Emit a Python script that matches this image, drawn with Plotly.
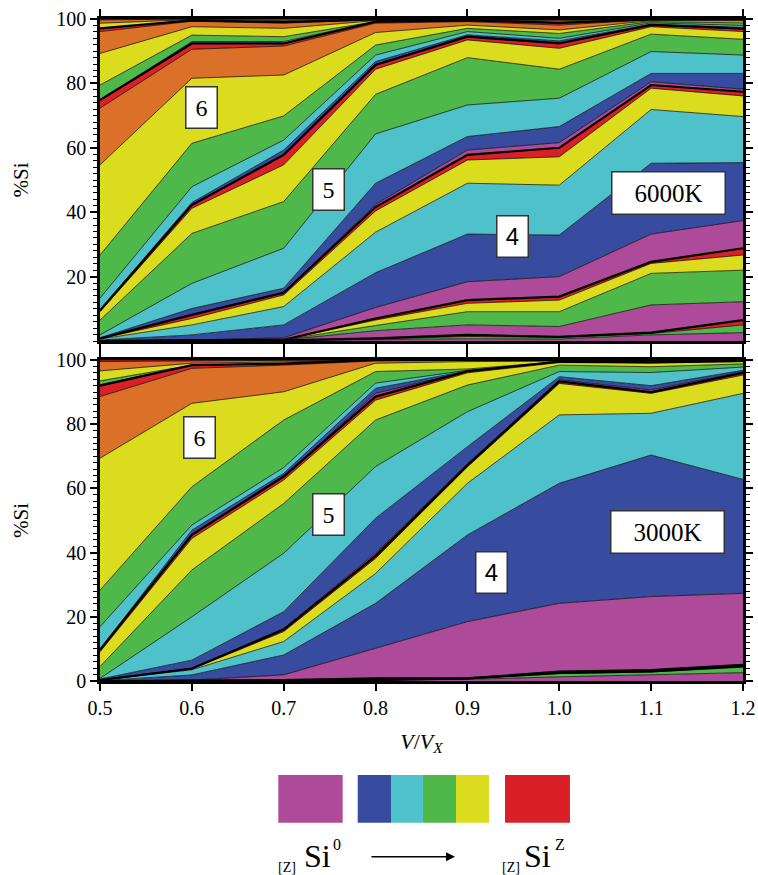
import plotly.graph_objects as go
import numpy as np

x_vals = [0.5, 0.6, 0.7, 0.8, 0.9, 1.0, 1.1, 1.2]

MAG = "#AD4A9A"; BLU = "#374B9F"; CYA = "#4FC1CB"; GRN = "#4EB84B"
YEL = "#DCDC1F"; ORA = "#DB7128"; RED = "#D92027"
COLORS = {"M": MAG, "B": BLU, "C": CYA, "G": GRN, "Y": YEL, "O": ORA, "R": RED}

# ---------------- 6000 K : % Si per coordination group / species ----------------
hot_z2 = {"M": [0, 0.1, 0.1, 0.4, 0.7, 0.6, 1.9, 2.6],
          "G": [0, 0, 0.05, 0.2, 0.7, 0.5, 0.4, 2.4],
          "R": [0, 0, 0.05, 0.2, 0.5, 0.2, 0.3, 1.5]}
hot_z3 = {"M": [0, 0.1, 0.15, 2.4, 3.1, 3.2, 8.6, 5.7],
          "G": [0, 0, 0.05, 1.6, 4.1, 4.6, 9.8, 9.8],
          "Y": [0, 0, 0, 1.7, 2.6, 3.6, 3.1, 4.7],
          "R": [0, 0, 0, 0.5, 1.0, 1.1, 0.5, 2.1]}
hot_z4 = {"M": [0, 0.1, 0.6, 3.4, 5.7, 6.2, 8.6, 8.6],
          "B": [0.3, 1.6, 4.0, 10.8, 14.8, 12.9, 22.0, 18.0],
          "C": [0.3, 3.1, 5.7, 12.6, 15.8, 15.5, 16.7, 14.3],
          "Y": [0.1, 2.0, 3.6, 6.6, 7.2, 8.8, 6.6, 6.4],
          "R": [0.1, 1.1, 0.7, 1.2, 1.6, 2.8, 1.0, 1.3]}
hot_z5 = {"M": [0, 0.1, 0.2, 0.8, 1.5, 1.6, 1.0, 0.8],
          "B": [0.2, 1.9, 1.2, 6.6, 4.2, 5.0, 2.6, 4.9],
          "C": [0.9, 7.8, 12.4, 15.3, 9.8, 8.8, 6.8, 5.7],
          "G": [4.6, 15.5, 14.5, 12.3, 14.7, 9.0, 5.4, 4.9],
          "Y": [2.6, 7.8, 11.4, 7.8, 5.5, 6.5, 2.3, 2.4],
          "R": [0.4, 1.0, 3.1, 1.3, 1.0, 1.5, 0.6, 0.9]}
hot_z6 = {"M": [0, 0, 0.2, 0.2, 0.1, 0.2, 0, 0.1],
          "B": [0.3, 0.8, 1.3, 0.9, 0.5, 0.6, 0.2, 0.3],
          "C": [3.5, 4.9, 3.1, 2.0, 1.0, 0.8, 0.4, 0.6],
          "G": [13.4, 13.5, 7.5, 3.1, 1.0, 1.5, 0.4, 0.8],
          "Y": [28.0, 20.2, 12.7, 3.9, 1.0, 1.1, 0.3, 0.6],
          "O": [17.6, 9.0, 9.0, 2.9, 1.1, 1.5, 0.3, 0.4],
          "R": [2.5, 1.8, 0.8, 0.5, 0.4, 0.7, 0.1, 0.1]}
hot_z7 = {"C": [0, 0.6, 0.6, 0, 0, 0, 0, 0],
          "G": [4.7, 2.0, 1.5, 0, 0, 0.2, 0, 0],
          "Y": [9.8, 2.6, 2.6, 0.3, 0.2, 0.4, 0.1, 0.1],
          "O": [6.8, 1.7, 1.6, 0.3, 0.1, 0.4, 0, 0],
          "R": [1.0, 0.3, 0.3, 0.1, 0, 0.1, 0, 0]}
hot_z8 = {"Y": [1.6, 0.2, 0.5, 0, 0, 0, 0, 0],
          "O": [1.0, 0.2, 0.5, 0.1, 0.1, 0.1, 0, 0],
          "R": [0.3, 0, 0, 0, 0, 0, 0, 0]}

# ---------------- 3000 K ----------------
cold_z2 = {"M": [0, 0, 0.2, 0.3, 0.5, 1.3, 2.0, 2.6],
           "G": [0, 0, 0, 0, 0.3, 1.0, 0.8, 1.7],
           "R": [0, 0, 0, 0, 0, 0.2, 0.2, 0.3]}
cold_z3 = {"M": [0, 0, 0.1, 0.3, 0, 0.2, 0.2, 0.2],
           "G": [0, 0, 0, 0.2, 0, 0.2, 0.2, 0.2],
           "Y": [0, 0, 0, 0, 0, 0, 0, 0],
           "R": [0, 0, 0, 0, 0, 0, 0, 0]}
cold_z4 = {"M": [0, 0.3, 1.6, 9.4, 17.7, 21.3, 22.9, 22.3],
           "B": [0.1, 1.6, 6.2, 14.0, 27.0, 37.4, 44.1, 35.5],
           "C": [0.1, 1.6, 4.2, 9.3, 16.1, 21.3, 13.0, 26.8],
           "Y": [0.05, 0.2, 3.1, 4.7, 5.1, 9.8, 6.2, 5.7],
           "R": [0.05, 0.2, 0.6, 0.8, 0.5, 0.6, 0.4, 0.7]}
cold_z5 = {"M": [0, 0, 0.4, 0.8, 0.5, 0.5, 0.7, 0.3],
           "B": [0.3, 2.6, 5.2, 10.9, 5.3, 1.0, 1.3, 0.5],
           "C": [0.2, 13.5, 18.2, 16.1, 10.9, 1.6, 4.1, 1.0],
           "G": [3.7, 14.6, 15.5, 14.5, 8.3, 2.0, 1.8, 1.0],
           "Y": [4.6, 9.8, 7.3, 6.2, 3.8, 0.8, 1.1, 0.7],
           "R": [0.6, 1.1, 1.1, 1.1, 0.5, 0.3, 0.3, 0.2]}
cold_z6 = {"M": [0, 0, 0, 1.0, 0, 0, 0, 0],
           "B": [0.2, 1.5, 1.0, 1.6, 0.1, 0, 0, 0],
           "C": [7.0, 1.6, 1.8, 1.6, 0.2, 0, 0, 0],
           "G": [11.4, 11.9, 14.8, 3.6, 0.4, 0, 0.2, 0],
           "Y": [41.1, 26.0, 8.8, 2.6, 2.3, 0.2, 0.3, 0.2],
           "O": [19.2, 10.9, 8.3, 0.7, 0.4, 0.2, 0.1, 0.1],
           "R": [3.4, 1.0, 0.5, 0.3, 0.1, 0.1, 0.1, 0]}
cold_z7 = {"C": [0.3, 0, 0, 0, 0, 0, 0, 0],
           "G": [1.2, 0, 0, 0, 0, 0, 0, 0],
           "Y": [3.1, 0.6, 0.5, 0, 0, 0, 0, 0],
           "O": [2.9, 0.8, 0.5, 0, 0, 0, 0, 0],
           "R": [0.5, 0.2, 0.1, 0, 0, 0, 0, 0]}

hot_groups = [hot_z2, hot_z3, hot_z4, hot_z5, hot_z6, hot_z7, hot_z8]
cold_groups = [cold_z2, cold_z3, cold_z4, cold_z5, cold_z6, cold_z7]

panel_labels_hot = [("6", 0.611, 72.4), ("5", 0.749, 47.1), ("4", 0.949, 32.4)]
panel_labels_cold = [("6", 0.608, 75.9), ("5", 0.749, 51.9), ("4", 0.926, 33.9)]

SERIF = "Liberation Serif, Times New Roman, Times, DejaVu Serif, serif"
SANS = "Liberation Sans, Arial, DejaVu Sans, sans-serif"

fig = go.Figure()


def add_panel(groups, xa, ya, sg):
    running = np.zeros(len(x_vals))
    tops = []
    for grp in groups:
        for key, vals in grp.items():
            fig.add_trace(go.Scatter(
                x=x_vals, y=vals, stackgroup=sg, mode="lines",
                line=dict(color="black", width=0.7), fillcolor=COLORS[key],
                xaxis=xa, yaxis=ya, hoverinfo="skip", showlegend=False))
            running = running + np.array(vals, dtype=float)
        tops.append(running.copy())
    # thicker separators between coordination groups
    for t in tops[:-1]:
        fig.add_trace(go.Scatter(
            x=x_vals, y=np.minimum(t, 100), mode="lines",
            line=dict(color="black", width=2.2), xaxis=xa, yaxis=ya,
            hoverinfo="skip", showlegend=False))


add_panel(hot_groups, "x", "y", "hot")
add_panel(cold_groups, "x2", "y2", "cold")

axis_common = dict(showline=True, linewidth=2.5, linecolor="black", mirror="allticks",
                   ticks="outside", ticklen=7, tickwidth=1.5, tickcolor="black",
                   showgrid=False, zeroline=False, automargin=False)
tickfont = dict(family=SERIF, size=20, color="black")
minor = dict(ticks="outside", dtick=2, ticklen=4, tickcolor="black", tickwidth=1)

fig.update_layout(
    width=758, height=875, autosize=False,
    margin=dict(l=100, r=15, t=19, b=194),
    paper_bgcolor="white", plot_bgcolor="white",
    font=dict(family=SERIF, color="black", size=20),
    xaxis=dict(domain=[0, 1], anchor="y", range=[0.5, 1.2], dtick=0.1,
               showticklabels=False, **axis_common),
    yaxis=dict(domain=[0.5136, 1], anchor="x", range=[0, 100],
               tickvals=[20, 40, 60, 80, 100], minor=minor,
               title=dict(text="%Si", standoff=22, font=dict(family=SERIF, size=21)),
               tickfont=tickfont, **axis_common),
    xaxis2=dict(domain=[0, 1], anchor="y2", range=[0.5, 1.2], dtick=0.1,
                tickformat=".1f", tickfont=tickfont,
                title=dict(text="<i>V</i>/<i>V</i><sub><i>X</i></sub>", standoff=16,
                           font=dict(family=SERIF, size=22)),
                **axis_common),
    yaxis2=dict(domain=[0, 0.4849], anchor="x2", range=[0, 100],
                tickvals=[0, 20, 40, 60, 80, 100], minor=minor,
                title=dict(text="%Si", standoff=22, font=dict(family=SERIF, size=21)),
                tickfont=tickfont, **axis_common),
)

annotations = []


def box_label(text, xx, yy, xr, yr, w, h, size, family=SERIF):
    annotations.append(dict(text=text, x=xx, y=yy, xref=xr, yref=yr, showarrow=False,
                            font=dict(size=size, family=family, color="black"),
                            bgcolor="white", bordercolor="#333333", borderwidth=1.5,
                            borderpad=1, width=w, height=h,
                            xanchor="center", yanchor="middle"))


for t, xx, yy in panel_labels_hot:
    box_label(t, xx, yy, "x", "y", 28, 38, 24, SANS if t == "4" else SERIF)
for t, xx, yy in panel_labels_cold:
    box_label(t, xx, yy, "x2", "y2", 28, 38, 24, SANS if t == "4" else SERIF)
box_label("6000K", 1.119, 45.9, "x", "y", 110, 39, 25)
box_label("3000K", 1.118, 46.3, "x2", "y2", 110, 39, 25)

# colour key below the chart
key_boxes = [(MAG, 0.2773, 0.3774), (BLU, 0.4008, 0.4526), (CYA, 0.4526, 0.5023),
             (GRN, 0.5023, 0.5537), (YEL, 0.5537, 0.6050), (RED, 0.6299, 0.7309)]
shapes = []
for col, x0, x1 in key_boxes:
    shapes.append(dict(type="rect", xref="paper", yref="paper", x0=x0, x1=x1,
                       y0=-0.2140, y1=-0.1420, fillcolor=col, line=dict(width=0),
                       layer="above"))


def txt(s, xx, yy, size):
    annotations.append(dict(text=s, x=xx, y=yy, xref="paper", yref="paper",
                            showarrow=False, font=dict(size=size, family=SERIF, color="black"),
                            xanchor="center", yanchor="middle"))


txt("[Z]", 0.2908, -0.2810, 14)
txt("Si", 0.3383, -0.2650, 32)
txt("0", 0.3690, -0.2470, 16)
txt("[Z]", 0.6392, -0.2810, 14)
txt("Si", 0.6804, -0.2650, 32)
txt("Z", 0.7158, -0.2470, 16)
annotations.append(dict(text="", x=0.5521, y=-0.2654, xref="paper", yref="paper",
                        showarrow=True, ax=-85, ay=0, arrowhead=2, arrowsize=1.2,
                        arrowwidth=1.5, arrowcolor="black"))

fig.update_layout(annotations=annotations, shapes=shapes)

fig.write_html("out.html",
               config={"responsive": False, "displayModeBar": False},
               post_script="document.body.style.margin='0px';"
                           "document.body.style.overflow='hidden';")
